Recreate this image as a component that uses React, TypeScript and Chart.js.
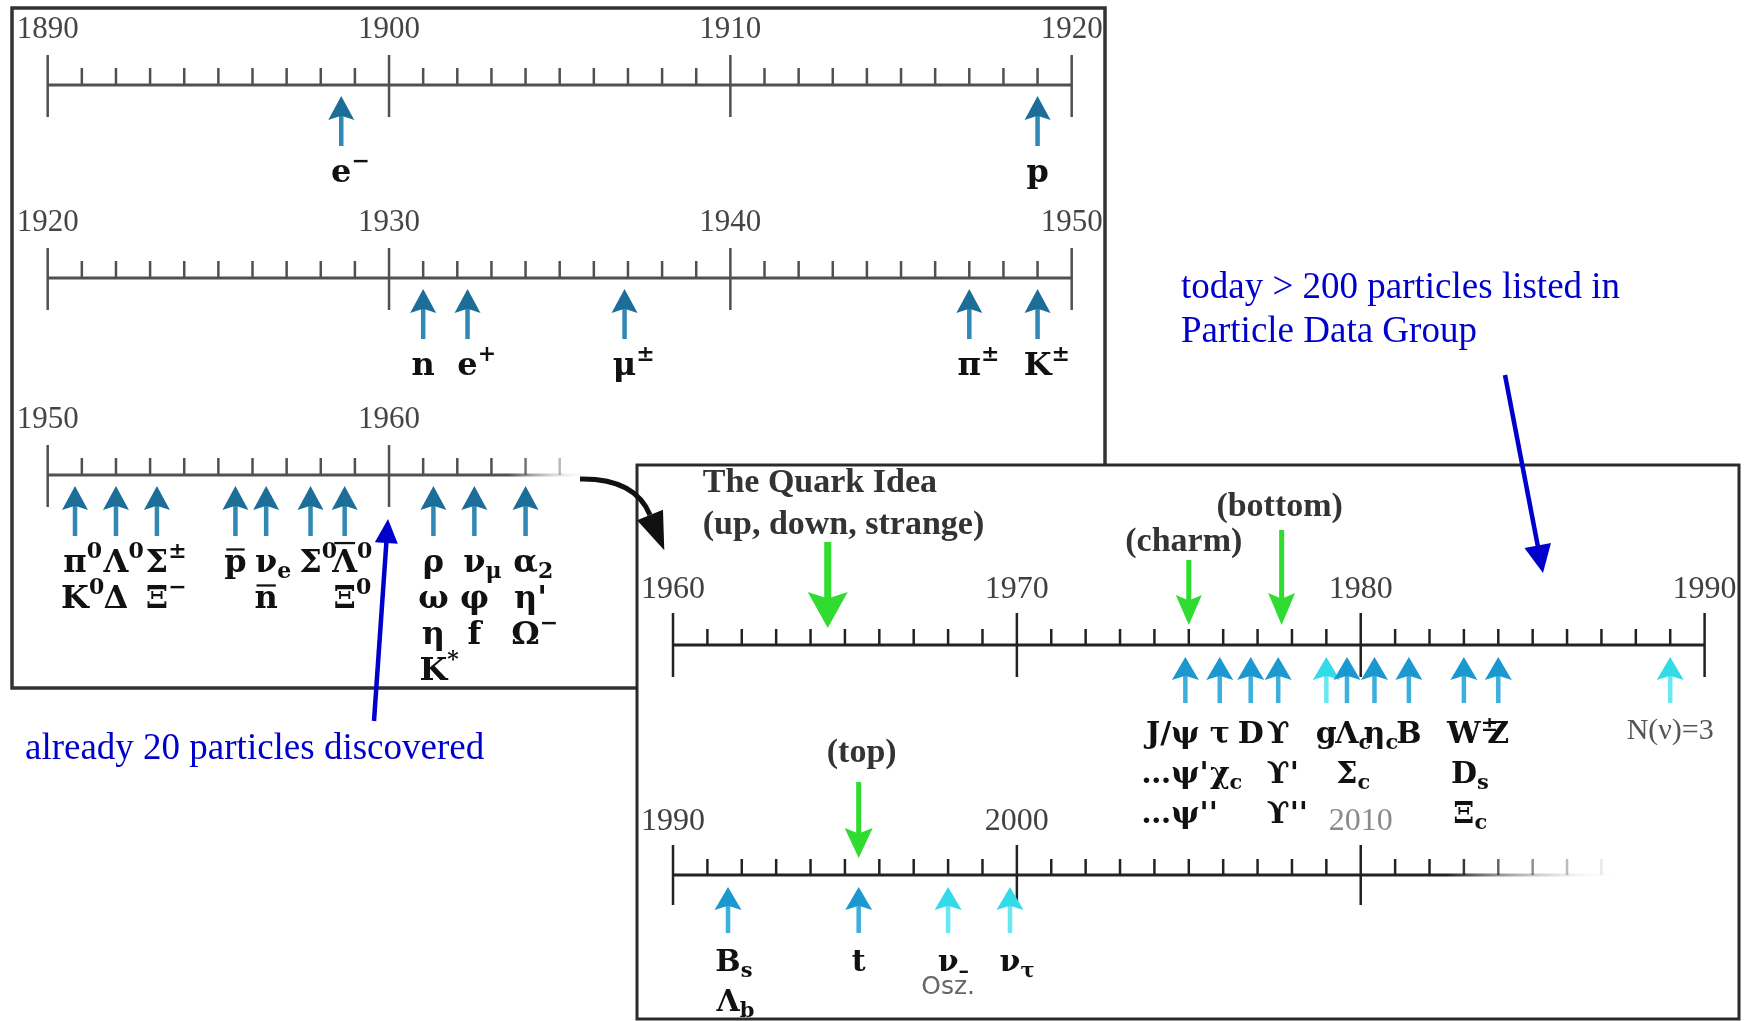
import React, { useEffect, useRef } from 'react';
import { Chart, registerables } from 'chart.js';

Chart.register(...registerables);

const W = 1752;
const H = 1021;

// ---------------- data ----------------
const ERA1_TICK_LABELS = [1890, 1900, 1910, 1920];
const ERA1_YEARS = [1898.6, 1919.0];
const ERA1_LABELS = [['e^{−}'], ['p']];

const ERA2_TICK_LABELS = [1920, 1930, 1940, 1950];
const ERA2_YEARS = [1931.0, 1932.3, 1936.9, 1947.0, 1949.0];
const ERA2_LABELS = [['n'], ['e^{+}'], ['μ^{±}'], ['π^{±}'], ['K^{±}']];

const ERA3_TICK_LABELS = [1950, 1960];
const ERA3_YEARS = [1950.8, 1952.0, 1953.2, 1955.5, 1956.4, 1957.7, 1958.7, 1961.3, 1962.5, 1964.0];
const ERA3_LABELS = [
  ['π^{0}', 'K^{0}'],
  ['Λ^{0}', 'Δ'],
  ['Σ^{±}', 'Ξ^{−}'],
  ['~{p}'],
  ['ν_{e}', '~{n}'],
  ['Σ^{0}'],
  ['~{Λ}^{0}', 'Ξ^{0}'],
  ['ρ', 'ω', 'η', 'K^{*}'],
  ['ν_{μ}', 'φ', 'f'],
  ['α_{2}', "η'", 'Ω^{−}'],
];

const ERA4_TICK_LABELS = [1960, 1970, 1980, 1990];
const ERA4_YEARS = [1974.9, 1975.9, 1976.8, 1977.6, 1979.0, 1979.6, 1980.4, 1981.4, 1983.0, 1984.0, 1989.0];
const ERA4_LABELS = [
  ['J/|ψ', "…|ψ'", "…|ψ''"],
  ['τ', 'χ_{c}'],
  ['D'],
  ['ϒ', "ϒ'", "ϒ''"],
  ['g'],
  ['Λ_{c}', 'Σ_{c}'],
  ['η_{c}'],
  ['B'],
  ['W^{±}', 'D_{s}', 'Ξ_{c}'],
  ['Z'],
  [],
];
const ERA4_NOTES = ['', '', '', '', '', '', '', '', '', '', 'N(ν)=3'];
const ERA4_KINDS = ['direct', 'direct', 'direct', 'direct', 'indirect', 'direct', 'direct', 'direct', 'direct', 'direct', 'indirect'];
const ERA4_QUARK_YEARS = [1964.5, 1975.0, 1977.7];
const ERA4_QUARK_TEXT = [['The Quark Idea', '(up, down, strange)'], ['(charm)'], ['(bottom)']];

const ERA5_TICK_LABELS = [1990, 2000, 2010];
const ERA5_YEARS = [1991.6, 1995.4, 1998.0, 1999.8];
const ERA5_LABELS = [['B_{s}', 'Λ_{b}'], ['t'], ['ν_{–}'], ['ν_{τ}']];
const ERA5_NOTES = ['', '', 'Osz.', ''];
const ERA5_KINDS = ['direct', 'direct', 'indirect', 'indirect'];
const ERA5_QUARK_YEARS = [1995.4];
const ERA5_QUARK_TEXT = [['(top)']];

const NOTE_TODAY = ['today > 200 particles listed in', 'Particle Data Group'];
const NOTE_EARLY = 'already 20 particles discovered';

// ---------------- styles ----------------
const FAMILY_TICK = '"Liberation Serif", "Times New Roman", serif';
const FAMILY_LABEL = '"DejaVu Serif", serif';
const GREEN = '#2fdc2f';
const BLUE = '#0000cc';

const TOP_STYLE = {
  left: 47.7,
  right: 1071.7,
  axisColor: '#505050',
  axisWidth: 3,
  tickWidth: 2.5,
  majorUp: 30,
  majorDown: 32,
  minorUp: 17,
  tickFont: 31,
  tickColor: '#454545',
  labelGap: 55,
  labelFont: 32,
  rowStart: 86,
  rowGap: 36,
  arrow: { tip: 11, headLen: 24, headW: 26, tail: 61, shaft: 4.5 },
  palette: { direct: ['#1c6e99', '#3188b3'], indirect: ['#35d8e6', '#62e4ee'] },
  noteFont: `28px ${FAMILY_TICK}`,
  noteColor: '#555',
  noteDy: -12,
};

const BOX_STYLE = {
  ...TOP_STYLE,
  left: 673,
  right: 1704.6,
  axisColor: '#222',
  majorUp: 32,
  majorDown: 32,
  minorUp: 16,
  tickFont: 32,
  tickColor: '#404040',
  labelFont: 30,
  rowStart: 88,
  rowGap: 40,
  arrow: { tip: 12, headLen: 23, headW: 27, tail: 58, shaft: 4.5 },
  palette: { direct: ['#1a98cf', '#3cafdd'], indirect: ['#33dbe9', '#68e8f1'] },
};

const TIMELINES: any[] = [
  { ...TOP_STYLE, min: 1890, max: 1920, visibleEnd: 1920, baseline: 85, tickLabels: ERA1_TICK_LABELS, years: ERA1_YEARS, labels: ERA1_LABELS },
  { ...TOP_STYLE, min: 1920, max: 1950, visibleEnd: 1950, baseline: 278, tickLabels: ERA2_TICK_LABELS, years: ERA2_YEARS, labels: ERA2_LABELS },
  { ...TOP_STYLE, min: 1950, max: 1980, visibleEnd: 1966, fadeFrom: 1963.5, baseline: 475, tickLabels: ERA3_TICK_LABELS, years: ERA3_YEARS, labels: ERA3_LABELS },
  {
    ...BOX_STYLE, min: 1960, max: 1990, visibleEnd: 1990, baseline: 645, tickLabels: ERA4_TICK_LABELS,
    years: ERA4_YEARS, labels: ERA4_LABELS, notes: ERA4_NOTES, kinds: ERA4_KINDS,
    quarkYears: ERA4_QUARK_YEARS, quarkText: ERA4_QUARK_TEXT,
    noteFont: `30px ${FAMILY_TICK}`, noteColor: '#555', noteDy: -2,
    quarkStyle: [
      { tail: -103, tip: -17, headLen: 36, headW: 40, shaft: 7, dx: -125, align: 'left', textY: -120 },
      { tail: -85, tip: -20, headLen: 30, headW: 26, shaft: 5, dx: -5, align: 'center', textY: -103 },
      { tail: -115, tip: -20, headLen: 32, headW: 27, shaft: 5, dx: -2, align: 'center', textY: -138 },
    ],
  },
  {
    ...BOX_STYLE, min: 1990, max: 2020, visibleEnd: 2017.5, fadeFrom: 2012.5, baseline: 875, labelGap: 53,
    rowStart: 86, majorUp: 30, majorDown: 30,
    tickLabels: ERA5_TICK_LABELS, fadedLabel: 2010,
    years: ERA5_YEARS, labels: ERA5_LABELS, notes: ERA5_NOTES, kinds: ERA5_KINDS,
    quarkYears: ERA5_QUARK_YEARS, quarkText: ERA5_QUARK_TEXT,
    noteFont: `25px "DejaVu Sans", sans-serif`, noteColor: '#666', noteDy: -14,
    quarkStyle: [{ tail: -93, tip: -17, headLen: 30, headW: 28, shaft: 5, dx: 3, align: 'center', textY: -122 }],
  },
];

// ---------------- drawing helpers ----------------
type Seg = { t: string; k: 'pre' | 'b' | 'sup' | 'sub' | 'bar' };

function parseRich(s: string): Seg[] {
  const segs: Seg[] = [];
  let rest = s;
  const bar = s.indexOf('|');
  if (bar >= 0) {
    segs.push({ t: s.slice(0, bar), k: 'pre' });
    rest = s.slice(bar + 1);
  }
  let buf = '';
  let i = 0;
  while (i < rest.length) {
    const c = rest[i];
    if ((c === '^' || c === '_' || c === '~') && rest[i + 1] === '{') {
      if (buf) { segs.push({ t: buf, k: 'b' }); buf = ''; }
      const end = rest.indexOf('}', i);
      const inner = rest.slice(i + 2, end);
      segs.push({ t: inner, k: c === '^' ? 'sup' : c === '_' ? 'sub' : 'bar' });
      i = end + 1;
    } else {
      buf += c;
      i++;
    }
  }
  if (buf) segs.push({ t: buf, k: 'b' });
  return segs;
}

function drawRich(ctx: CanvasRenderingContext2D, s: string, x: number, yc: number, F: number, color: string) {
  const segs = parseRich(s);
  const big = `bold ${F}px ${FAMILY_LABEL}`;
  const small = `bold ${Math.round(F * 0.7)}px ${FAMILY_LABEL}`;
  const fontOf = (k: string) => (k === 'sup' || k === 'sub' ? small : big);
  const widths = segs.map((sg) => { ctx.font = fontOf(sg.k); return ctx.measureText(sg.t).width; });
  let ai = segs.findIndex((sg) => sg.k === 'b' || sg.k === 'bar');
  if (ai < 0) ai = 0;
  let before = 0;
  for (let i = 0; i < ai; i++) before += widths[i];
  ctx.font = fontOf(segs[ai].k);
  const cw = ctx.measureText(segs[ai].t.charAt(0)).width;
  let cx = x - before - cw / 2;
  const base = yc + 0.34 * F;
  ctx.fillStyle = color;
  ctx.strokeStyle = color;
  ctx.textAlign = 'left';
  ctx.textBaseline = 'alphabetic';
  segs.forEach((sg, i) => {
    ctx.font = fontOf(sg.k);
    let y = base;
    if (sg.k === 'sup') y = base - 0.42 * F;
    if (sg.k === 'sub') y = base + 0.2 * F;
    ctx.fillText(sg.t, cx, y);
    if (sg.k === 'bar') {
      const upper = sg.t !== sg.t.toLowerCase();
      const by = base - (upper ? 0.9 : 0.7) * F;
      ctx.lineWidth = Math.max(2, 0.07 * F);
      ctx.beginPath();
      ctx.moveTo(cx + 2, by);
      ctx.lineTo(cx + widths[i] - 2, by);
      ctx.stroke();
    }
    cx += widths[i];
  });
}

function upArrow(ctx: CanvasRenderingContext2D, x: number, tip: number, headLen: number, headW: number, tail: number, shaft: number, headCol: string, shaftCol: string) {
  ctx.fillStyle = shaftCol;
  const top = tip + headLen * 0.7;
  ctx.fillRect(x - shaft / 2, top, shaft, tail - top);
  ctx.fillStyle = headCol;
  ctx.beginPath();
  ctx.moveTo(x, tip);
  ctx.lineTo(x + headW / 2, tip + headLen);
  ctx.lineTo(x, tip + headLen * 0.82);
  ctx.lineTo(x - headW / 2, tip + headLen);
  ctx.closePath();
  ctx.fill();
}

function downArrow(ctx: CanvasRenderingContext2D, x: number, tail: number, tip: number, headLen: number, headW: number, shaft: number, col: string) {
  ctx.fillStyle = col;
  const bot = tip - headLen * 0.7;
  ctx.fillRect(x - shaft / 2, tail, shaft, bot - tail);
  ctx.beginPath();
  ctx.moveTo(x, tip);
  ctx.lineTo(x + headW / 2, tip - headLen);
  ctx.lineTo(x, tip - headLen * 0.82);
  ctx.lineTo(x - headW / 2, tip - headLen);
  ctx.closePath();
  ctx.fill();
}

function lineArrow(ctx: CanvasRenderingContext2D, x0: number, y0: number, x1: number, y1: number, lw: number, hl: number, hw: number, col: string) {
  const dx = x1 - x0, dy = y1 - y0;
  const L = Math.hypot(dx, dy);
  const ux = dx / L, uy = dy / L;
  const bx = x1 - ux * hl, by = y1 - uy * hl;
  ctx.strokeStyle = col;
  ctx.lineWidth = lw;
  ctx.lineCap = 'butt';
  ctx.beginPath();
  ctx.moveTo(x0, y0);
  ctx.lineTo(bx + ux * 2, by + uy * 2);
  ctx.stroke();
  ctx.fillStyle = col;
  ctx.beginPath();
  ctx.moveTo(x1, y1);
  ctx.lineTo(bx - uy * hw / 2, by + ux * hw / 2);
  ctx.lineTo(bx + uy * hw / 2, by - ux * hw / 2);
  ctx.closePath();
  ctx.fill();
}

// ---------------- plugins ----------------
function makeTimelinePlugin(cfg: any) {
  return {
    id: 'timeline',
    beforeDatasetsDraw(chart: any) {
      const ctx: CanvasRenderingContext2D = chart.ctx;
      const xs = chart.scales.x;
      const y0 = chart.scales.y.getPixelForValue(0);
      const x0 = xs.getPixelForValue(cfg.min);
      const xEnd = xs.getPixelForValue(cfg.visibleEnd);
      ctx.save();
      let stroke: any = cfg.axisColor;
      if (cfg.fadeFrom != null) {
        const g = ctx.createLinearGradient(xs.getPixelForValue(cfg.fadeFrom), 0, xEnd, 0);
        g.addColorStop(0, cfg.axisColor);
        g.addColorStop(1, 'rgba(255,255,255,0)');
        stroke = g;
      }
      ctx.strokeStyle = stroke;
      ctx.lineWidth = cfg.axisWidth;
      ctx.beginPath();
      ctx.moveTo(x0, y0);
      ctx.lineTo(xEnd, y0);
      ctx.stroke();
      for (const t of xs.ticks) {
        const v = t.value;
        if (v > cfg.visibleEnd) continue;
        const px = xs.getPixelForValue(v);
        let a = 1;
        if (cfg.fadeFrom != null && v > cfg.fadeFrom) a = Math.max(0, 1 - (v - cfg.fadeFrom) / (cfg.visibleEnd - cfg.fadeFrom));
        ctx.globalAlpha = a;
        ctx.strokeStyle = cfg.axisColor;
        ctx.lineWidth = cfg.tickWidth;
        ctx.beginPath();
        if (v % 10 === 0) {
          ctx.moveTo(px, y0 - cfg.majorUp);
          ctx.lineTo(px, y0 + cfg.majorDown);
        } else {
          ctx.moveTo(px, y0 - cfg.minorUp);
          ctx.lineTo(px, y0);
        }
        ctx.stroke();
        ctx.globalAlpha = 1;
        if (cfg.tickLabels.includes(v)) {
          ctx.font = `${cfg.tickFont}px ${FAMILY_TICK}`;
          ctx.fillStyle = cfg.fadedLabel === v ? '#8a8a8a' : cfg.tickColor;
          ctx.textAlign = 'center';
          ctx.textBaseline = 'middle';
          ctx.fillText(String(v), px, y0 - cfg.labelGap);
        }
      }
      ctx.restore();
    },
    afterDatasetsDraw(chart: any) {
      const ctx: CanvasRenderingContext2D = chart.ctx;
      ctx.save();
      const pts = chart.getDatasetMeta(0).data;
      pts.forEach((p: any, i: number) => {
        const kind = (cfg.kinds && cfg.kinds[i]) || 'direct';
        const [hc, sc] = cfg.palette[kind];
        const a = cfg.arrow;
        const y0 = p.y;
        upArrow(ctx, p.x, y0 + a.tip, a.headLen, a.headW, y0 + a.tail, a.shaft, hc, sc);
        const lines: string[] = cfg.labels[i] || [];
        lines.forEach((s, r) => drawRich(ctx, s, p.x, y0 + cfg.rowStart + r * cfg.rowGap, cfg.labelFont, '#111'));
        const note = cfg.notes && cfg.notes[i];
        if (note) {
          ctx.font = cfg.noteFont;
          ctx.fillStyle = cfg.noteColor;
          ctx.textAlign = 'center';
          ctx.textBaseline = 'middle';
          ctx.fillText(note, p.x, y0 + cfg.rowStart + lines.length * cfg.rowGap + cfg.noteDy);
        }
      });
      if (cfg.quarkYears) {
        const q = chart.getDatasetMeta(1).data;
        q.forEach((p: any, i: number) => {
          const st = cfg.quarkStyle[i];
          downArrow(ctx, p.x, p.y + st.tail, p.y + st.tip, st.headLen, st.headW, st.shaft, GREEN);
          const texts: string[] = cfg.quarkText[i];
          ctx.font = `bold 34px ${FAMILY_TICK}`;
          ctx.fillStyle = '#333';
          ctx.textAlign = st.align;
          ctx.textBaseline = 'middle';
          texts.forEach((t, r) => ctx.fillText(t, p.x + st.dx, p.y + st.textY - (texts.length - 1 - r) * 42));
        });
      }
      ctx.restore();
    },
  };
}

const framePlugin = {
  id: 'frame',
  beforeDraw(chart: any) {
    const ctx: CanvasRenderingContext2D = chart.ctx;
    ctx.save();
    ctx.fillStyle = '#fff';
    ctx.fillRect(0, 0, W, H);
    // upper-left panel
    ctx.strokeStyle = '#333';
    ctx.lineWidth = 3.5;
    ctx.strokeRect(12, 8, 1105 - 12, 688 - 8);
    // lower-right panel
    ctx.fillStyle = '#fff';
    ctx.fillRect(637, 465, 1739 - 637, 1019 - 465);
    ctx.lineWidth = 3;
    ctx.strokeStyle = '#2a2a2a';
    ctx.strokeRect(637, 465, 1739 - 637, 1019 - 465);
    // blue notes
    ctx.fillStyle = BLUE;
    ctx.font = `37px ${FAMILY_TICK}`;
    ctx.textAlign = 'left';
    ctx.textBaseline = 'middle';
    ctx.fillText(NOTE_TODAY[0], 1181, 288);
    ctx.fillText(NOTE_TODAY[1], 1181, 332);
    ctx.fillText(NOTE_EARLY, 25, 749);
    lineArrow(ctx, 374, 721, 388, 519, 4.5, 24, 23, BLUE);
    lineArrow(ctx, 1505, 375, 1543, 573, 4.5, 28, 27, BLUE);
    // curved black arrow
    ctx.strokeStyle = '#111';
    ctx.lineWidth = 5;
    ctx.beginPath();
    ctx.moveTo(580, 479);
    ctx.quadraticCurveTo(635, 478, 650, 515);
    ctx.stroke();
    const ux = 0.376, uy = 0.927;
    const tipX = 650 + ux * 38, tipY = 515 + uy * 38;
    const bx = tipX - ux * 38, by = tipY - uy * 38;
    ctx.fillStyle = '#111';
    ctx.beginPath();
    ctx.moveTo(tipX, tipY);
    ctx.lineTo(bx - uy * 14, by + ux * 14);
    ctx.lineTo(bx + uy * 14, by - ux * 14);
    ctx.closePath();
    ctx.fill();
    ctx.restore();
  },
};

// ---------------- components ----------------
function FrameChart() {
  const ref = useRef<HTMLCanvasElement>(null);
  useEffect(() => {
    const chart = new Chart(ref.current as HTMLCanvasElement, {
      type: 'scatter',
      data: { datasets: [] },
      options: {
        animation: false,
        responsive: false,
        devicePixelRatio: 1,
        events: [],
        plugins: { legend: { display: false }, tooltip: { enabled: false } },
        scales: { x: { display: false }, y: { display: false } },
      },
      plugins: [framePlugin],
    } as any);
    return () => chart.destroy();
  }, []);
  return <canvas ref={ref} width={W} height={H} style={{ position: 'absolute', left: 0, top: 0, width: W, height: H }} />;
}

function TimelineChart({ cfg }: { cfg: any }) {
  const ref = useRef<HTMLCanvasElement>(null);
  useEffect(() => {
    const bottom = Math.max(0, H - (cfg.baseline + 140));
    const datasets: any[] = [
      { label: 'discoveries', data: cfg.years.map((y: number) => ({ x: y, y: 0 })), pointRadius: 0, showLine: false },
    ];
    if (cfg.quarkYears) {
      datasets.push({ label: 'quark predictions', data: cfg.quarkYears.map((y: number) => ({ x: y, y: 0 })), pointRadius: 0, showLine: false });
    }
    const chart = new Chart(ref.current as HTMLCanvasElement, {
      type: 'scatter',
      data: { datasets },
      options: {
        animation: false,
        responsive: false,
        devicePixelRatio: 1,
        events: [],
        layout: { autoPadding: false, padding: { left: cfg.left, right: W - cfg.right, top: cfg.baseline, bottom } },
        plugins: { legend: { display: false }, tooltip: { enabled: false } },
        scales: {
          x: {
            type: 'linear',
            display: false,
            min: cfg.min,
            max: cfg.max,
            ticks: { stepSize: 1, autoSkip: false },
          },
          y: { type: 'linear', display: false, min: 0, max: 1, reverse: true },
        },
      },
      plugins: [makeTimelinePlugin(cfg)],
    } as any);
    return () => chart.destroy();
  }, [cfg]);
  return <canvas ref={ref} width={W} height={H} style={{ position: 'absolute', left: 0, top: 0, width: W, height: H }} />;
}

export default function App() {
  useEffect(() => {
    document.body.style.margin = '0';
    document.documentElement.style.overflow = 'hidden';
  }, []);
  return (
    <div style={{ position: 'relative', width: W, height: H, overflow: 'hidden', background: '#fff' }}>
      <FrameChart />
      {TIMELINES.map((t, i) => (
        <TimelineChart key={i} cfg={t} />
      ))}
    </div>
  );
}
